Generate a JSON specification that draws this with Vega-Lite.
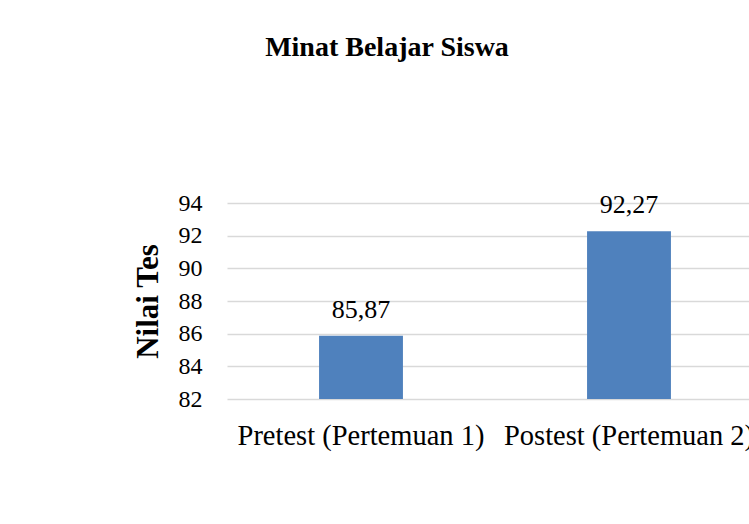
{
  "$schema": "https://vega.github.io/schema/vega-lite/v6.json",
  "autosize": {"type": "none"},
  "width": 522,
  "height": 196,
  "padding": {"left": 227, "top": 203, "right": 0, "bottom": 125},
  "background": "white",
  "config": {
    "locale": {"number": {"decimal": ",", "thousands": ".", "grouping": [3], "currency": ["", ""]}},
    "view": {"stroke": null},
    "font": "Liberation Serif"
  },
  "title": {
    "text": "Minat Belajar Siswa",
    "font": "Liberation Serif",
    "fontSize": 28,
    "fontWeight": "bold",
    "color": "#000000",
    "anchor": "middle",
    "dx": -101,
    "offset": 129
  },
  "data": {
    "values": [
      {"tes": "Pretest (Pertemuan 1)", "nilai": 85.87},
      {"tes": "Postest (Pertemuan 2)", "nilai": 92.27}
    ]
  },
  "encoding": {
    "x": {
      "field": "tes",
      "type": "nominal",
      "sort": null,
      "scale": {"range": [0, 536], "paddingInner": 0.687, "paddingOuter": 0.3435},
      "axis": {
        "title": null,
        "labelAngle": 0,
        "domain": false,
        "ticks": false,
        "tickSize": 0,
        "labelPadding": 22,
        "labelFont": "Liberation Serif",
        "labelFontSize": 28.5,
        "labelColor": "#000000",
        "labelOverlap": false,
        "labelLimit": 0,
        "labelFlush": false,
        "labelBound": false
      }
    },
    "y": {
      "field": "nilai",
      "type": "quantitative",
      "scale": {"domain": [82, 94], "nice": false, "zero": false},
      "axis": {
        "title": "Nilai Tes",
        "titleFont": "Liberation Serif",
        "titleFontSize": 31,
        "titleFontWeight": "bold",
        "titleColor": "#000000",
        "titlePadding": 14,
        "values": [82, 84, 86, 88, 90, 92, 94],
        "format": "d",
        "domain": false,
        "ticks": false,
        "tickSize": 0,
        "labelPadding": 25,
        "labelFont": "Liberation Serif",
        "labelFontSize": 24,
        "labelColor": "#000000",
        "grid": true,
        "gridColor": "#d9d9d9",
        "gridWidth": 1.5
      }
    }
  },
  "layer": [
    {
      "mark": {"type": "bar", "color": "#4f81bd"},
      "encoding": {"y2": {"datum": 82}}
    },
    {
      "mark": {"type": "text", "baseline": "alphabetic", "dy": -18, "fontSize": 26, "font": "Liberation Serif", "color": "#000000"},
      "encoding": {"text": {"field": "nilai", "type": "quantitative", "format": ".2f"}}
    }
  ]
}
